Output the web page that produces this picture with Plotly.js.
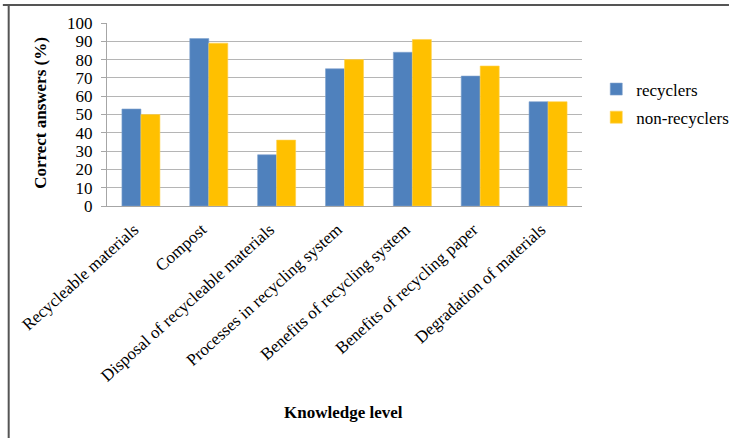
<!DOCTYPE html>
<html>
<head>
<meta charset="utf-8">
<script src="https://cdn.plot.ly/plotly-3.0.1.min.js"></script>
<style>
  html, body { margin: 0; padding: 0; background: #ffffff; }
  #chart { width: 746px; height: 438px; }
</style>
</head>
<body>
<div id="chart"></div>
<script>
// Knowledge areas on the category axis
const categories = [
  "Recycleable materials",
  "Compost",
  "Disposal of recycleable materials",
  "Processes in recycling system",
  "Benefits of recycling system",
  "Benefits of recycling paper",
  "Degradation of materials"
];

// Share of correct answers (%) per group
const recyclers = [53, 91.5, 28, 75, 84, 71, 57];
const nonRecyclers = [50, 89, 36, 80, 91, 76.5, 57];

const yTickValues = [0, 10, 20, 30, 40, 50, 60, 70, 80, 90, 100];

const serif = "Liberation Serif";

const traces = [
  {
    type: "bar",
    name: "recyclers",
    x: categories,
    y: recyclers,
    marker: { color: "#4F81BD", line: { color: "#7fa3cf", width: 0.6 } },
    legendgroup: "a"
  },
  {
    type: "bar",
    name: "non-recyclers",
    x: categories,
    y: nonRecyclers,
    marker: { color: "#FFC000", line: { color: "#ffd24d", width: 0.6 } },
    legendgroup: "b"
  }
];

// plot area: 488 x 183 px
const PW = 488, PH = 183;

const layout = {
  width: 746,
  height: 438,
  margin: { l: 107, r: 151, t: 23, b: 232 },
  paper_bgcolor: "#ffffff",
  plot_bgcolor: "#ffffff",
  font: { family: serif, size: 17, color: "#000000" },
  barmode: "group",
  bargap: 0.44,
  bargroupgap: 0,
  showlegend: true,
  legend: {
    x: 1.03, xanchor: "left",
    y: 0.56, yanchor: "middle",
    font: { family: serif, size: 17, color: "#000" },
    traceorder: "grouped",
    tracegroupgap: 3,
    itemwidth: 30,
    bgcolor: "rgba(0,0,0,0)"
  },
  xaxis: {
    type: "category",
    tickangle: -42,
    showgrid: false,
    showline: true,
    linecolor: "#a6a6a6",
    linewidth: 1,
    ticks: "",
    ticklabelstandoff: 6,
    ticklabelshift: -7,
    tickfont: { family: serif, size: 17, color: "#000" },
    automargin: false
  },
  yaxis: {
    range: [0, 100],
    tickvals: yTickValues,
    showgrid: true,
    gridcolor: "#b5b5b5",
    gridwidth: 1,
    showline: true,
    linecolor: "#a6a6a6",
    linewidth: 1,
    ticks: "outside",
    ticklen: 5,
    tickcolor: "#a6a6a6",
    ticklabelstandoff: 5,
    zeroline: false,
    tickfont: { family: serif, size: 17, color: "#000" },
    automargin: false
  },
  annotations: [
    { text: "<b>Knowledge level</b>", xref: "paper", yref: "paper",
      x: (350 - 107) / PW, y: (206 - 412) / PH, xanchor: "center", yanchor: "middle",
      showarrow: false, font: { family: serif, size: 17, color: "#000" } },
    { text: "<b>Correct answers (%)</b>", xref: "paper", yref: "paper",
      x: (38 - 107) / PW, y: (206 - 113) / PH, xanchor: "center", yanchor: "middle",
      textangle: -90, showarrow: false, font: { family: serif, size: 17, color: "#000" } }
  ],
  shapes: [
    // frame lines along the top and left edges
    { type: "line", xref: "paper", yref: "paper",
      x0: -107 / PW, x1: 639 / PW, y0: 201 / PH, y1: 201 / PH,
      line: { color: "#555555", width: 2 } },
    { type: "line", xref: "paper", yref: "paper",
      x0: -101 / PW, x1: -101 / PW, y0: 201 / PH, y1: -232 / PH,
      line: { color: "#555555", width: 2 } }
  ]
};

Plotly.newPlot("chart", traces, layout, { displayModeBar: false, staticPlot: true });
</script>
</body>
</html>
